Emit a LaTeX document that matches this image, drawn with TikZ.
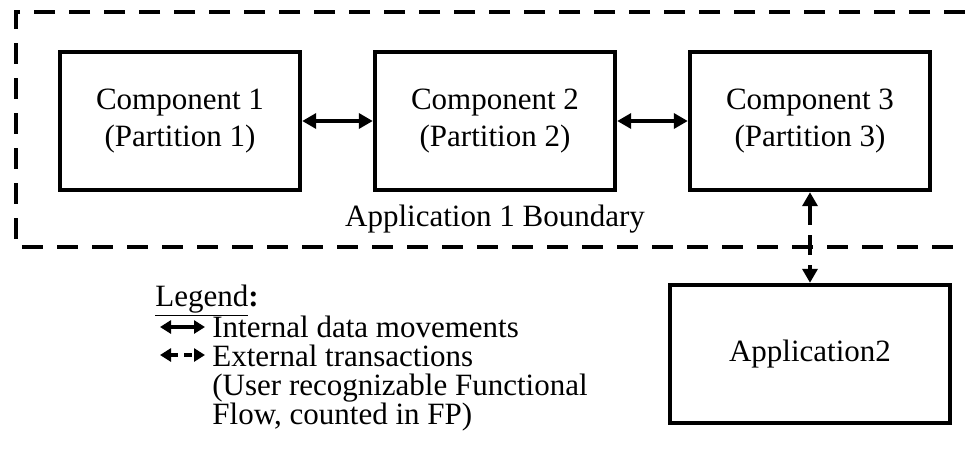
\documentclass[tikz,border=0pt]{standalone}
\usepackage{fontspec}
\setmainfont{Liberation Serif}
\usetikzlibrary{arrows.meta,positioning}
\tikzset{
    block/.style = {draw, rectangle, line width=2.2pt,
        minimum height=69pt, minimum width=120pt, align=center,
        font=\fontsize{15.5}{18.5}\selectfont},
    bound/.style = {draw, line width=2.4pt, dash pattern=on 10.5pt off 7pt},
    link/.style = {draw, line width=2pt, {Triangle[length=7pt,width=7.5pt]}-{Triangle[length=7pt,width=7.5pt]}},
    extlink/.style = {link, dash pattern=on 10pt off 5pt},
    smalllink/.style = {draw, line width=1.6pt, {Triangle[length=5.5pt,width=6.5pt]}-{Triangle[length=5.5pt,width=6.5pt]}},
    txt/.style = {font=\fontsize{15.5}{14.5}\selectfont, inner sep=0pt}
}
\begin{document}
\begin{tikzpicture}[x=0.5pt, y=-0.5pt, node distance=157.5pt]
    \useasboundingbox (0,0) rectangle (965,462);
    \node [block] (c1) at (180,121) {Component 1\\(Partition 1)};
    \node [block, right of=c1] (c2) {Component 2\\(Partition 2)};
    \node [block, right of=c2] (c3) {Component 3\\(Partition 3)};
    \node [block, minimum width=140pt, below of=c3, node distance=116.5pt] (app2) {Application2};
    \draw [link] (c1) -- (c2);
    \draw [link] (c2) -- (c3);
    \draw [extlink] (c3) -- (app2);
    \draw [bound] (965,12) -- (16,12) -- (16,247) -- (965,247);
    \node [txt, below of=c2, node distance=49pt] (bnd) {Application 1 Boundary};
    \node [txt, anchor=base west] (lgd) at (155,306) {\underline{Legend}\textbf{:}};
    \node [txt, anchor=north west, align=left] (lgdtxt) at (212,316) {Internal data movements\\External transactions\\(User recognizable Functional\\Flow, counted in FP)};
    \coordinate (int1) at (160,327);
    \coordinate (int2) at (205,327);
    \coordinate (ext1) at (160,355);
    \coordinate (ext2) at (205,355);
    \draw [smalllink] (int1) -- (int2);
    \draw [smalllink, dash pattern=on 4pt off 3pt] (ext1) -- (ext2);
\end{tikzpicture}
\end{document}
